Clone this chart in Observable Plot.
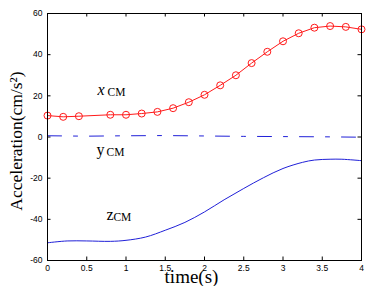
<!DOCTYPE html>
<html>
<head>
<meta charset="utf-8">
<script src="https://cdn.jsdelivr.net/npm/d3@7"></script>
<script src="https://cdn.jsdelivr.net/npm/@observablehq/plot@0.6"></script>
<style>
  html, body { margin: 0; padding: 0; background: white; }
  svg { display: block; }
  svg .serif-label, svg .serif-label text { font-family: "Liberation Serif", "Times New Roman", serif !important; }
  svg .tick-label, svg .tick-label text { font-family: "Liberation Sans", Arial, sans-serif !important; }
</style>
</head>
<body>
<div id="chart"></div>
<script>
// x_CM series (red, circle markers)
const xTime = [0, 0.2, 0.4, 0.8, 1.0, 1.2, 1.4, 1.6, 1.8, 2.0, 2.2, 2.4, 2.6, 2.8, 3.0, 3.2, 3.4, 3.6, 3.8, 4.0];
const xCM   = [10.4, 9.8, 10.1, 10.8, 10.8, 11.4, 12.2, 14.0, 16.9, 20.5, 25.1, 30.0, 35.9, 41.4, 46.5, 50.4, 53.1, 53.9, 53.5, 52.3];

// y_CM series (blue dash-dot)
const yTime = [0, 0.5, 1.0, 1.5, 2.0, 2.5, 3.0, 3.5, 4.0];
const yCM   = [0.6, 0.4, 0.6, 0.7, 0.5, 0.3, 0.2, 0.1, -0.1];

// z_CM series (blue solid)
const zTime = [0, 0.25, 0.5, 0.8, 1.0, 1.25, 1.5, 1.75, 2.0, 2.25, 2.5, 2.75, 3.0, 3.25, 3.4, 3.6, 3.75, 4.0];
const zCM   = [-51.4, -50.5, -50.5, -50.7, -50.2, -48.6, -45.3, -41.5, -36.4, -30.5, -25.0, -19.8, -15.3, -12.3, -11.2, -10.8, -10.8, -11.5];

// tick values
const xTicks = [0, 0.5, 1, 1.5, 2, 2.5, 3, 3.5, 4];
const yTicks = [-60, -40, -20, 0, 20, 40, 60];

// series labels (letter + subscript), anchored in data coordinates
const seriesLabels = [
  {letter: "x", t: 0.637, v: 20.4, italic: true},
  {letter: "y", t: 0.624, v: -8.6, italic: false},
  {letter: "z", t: 0.75,  v: -40.2, italic: false}
];
const subscript = "CM";
const xLabel = "time(s)";
const yLabel = "Acceleration(cm/s²)";

const xData = xTime.map((t, i) => ({t, v: xCM[i]}));
const yData = yTime.map((t, i) => ({t, v: yCM[i]}));
const zData = zTime.map((t, i) => ({t, v: zCM[i]}));

const W = 368, H = 286;
const mL = 47, mR = 7, mT = 13, mB = 26;
const plotW = W - mL - mR, plotH = H - mT - mB;
const tk = 3.5;
const red = "#ff1a1a", blue = "#2020d8";
const letterW = {x: 10, y: 10, z: 7};

const chart = Plot.plot({
  width: W, height: H,
  marginLeft: mL, marginRight: mR, marginTop: mT, marginBottom: mB,
  style: {fontFamily: "Liberation Sans, Arial, sans-serif", fontSize: "8.5px", background: "white", color: "black", overflow: "visible"},
  x: {domain: [0, 4]},
  y: {domain: [-60, 60]},
  axis: null,
  marks: [
    Plot.axisX(xTicks, {anchor: "bottom", tickSize: 0, tickPadding: 4, tickFormat: d => String(d), label: null, fontSize: 8.5, className: "tick-label"}),
    Plot.axisY(yTicks, {anchor: "left", tickSize: 0, tickPadding: 5, tickFormat: d => String(d), label: null, fontSize: 8.5, className: "tick-label"}),
    // inward ticks on all four sides
    Plot.tickX(xTicks, {x: d => d, insetTop: plotH - tk, stroke: "black", strokeWidth: 1}),
    Plot.tickX(xTicks, {x: d => d, insetBottom: plotH - tk, stroke: "black", strokeWidth: 1}),
    Plot.tickY(yTicks, {y: d => d, insetRight: plotW - tk, stroke: "black", strokeWidth: 1}),
    Plot.tickY(yTicks, {y: d => d, insetLeft: plotW - tk, stroke: "black", strokeWidth: 1}),
    // series
    Plot.line(zData, {x: "t", y: "v", stroke: blue, strokeWidth: 1, curve: "catmull-rom"}),
    Plot.line(yData, {x: "t", y: "v", stroke: blue, strokeWidth: 1, strokeDasharray: "14,12,4,12"}),
    Plot.line(xData, {x: "t", y: "v", stroke: red, strokeWidth: 1}),
    Plot.dot(xData, {x: "t", y: "v", r: 3.5, stroke: red, fill: "none", strokeWidth: 1}),
    // series labels
    ...seriesLabels.flatMap(l => [
      Plot.text([l], {x: "t", y: "v", text: d => d.letter, textAnchor: "start", lineAnchor: "bottom",
        fontSize: 16, fontStyle: l.italic ? "italic" : "normal", fill: "black", className: "serif-label"}),
      Plot.text([l], {x: "t", y: "v", text: () => subscript, textAnchor: "start", lineAnchor: "bottom",
        dx: letterW[l.letter], dy: 1, fontSize: 11.5, fill: "black", className: "serif-label"})
    ]),
    // axis titles
    Plot.text([xLabel], {frameAnchor: "bottom", text: d => d, textAnchor: "middle", lineAnchor: "bottom", dx: -13, dy: 22.5,
      fontSize: 19, fill: "black", className: "serif-label"}),
    Plot.text([yLabel], {frameAnchor: "left", text: d => d, textAnchor: "middle", lineAnchor: "bottom", rotate: -90, dx: -26, dy: 4,
      fontSize: 17.5, fill: "black", className: "serif-label"}),
    Plot.frame({stroke: "black", strokeWidth: 1})
  ]
});
document.getElementById("chart").appendChild(chart);
</script>
</body>
</html>
